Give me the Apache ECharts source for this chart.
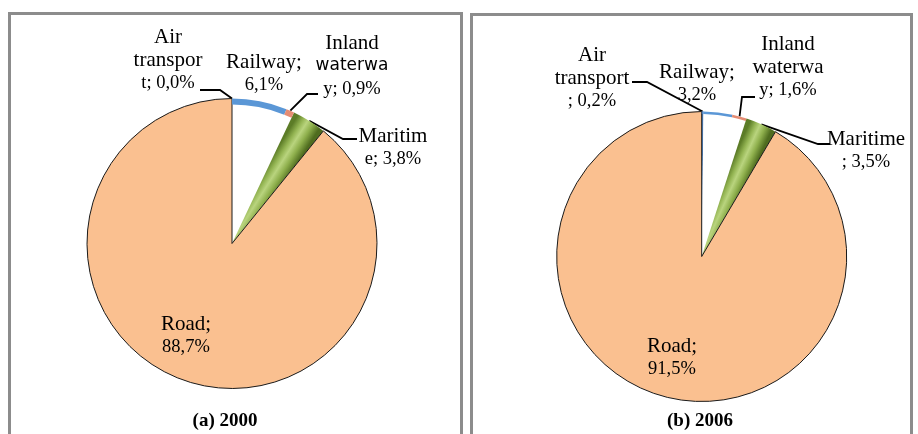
<!DOCTYPE html>
<html><head><meta charset="utf-8">
<script src="https://cdn.jsdelivr.net/npm/echarts@6/dist/echarts.min.js"></script>
<style>html,body{margin:0;padding:0;background:#fff}#c{width:918px;height:434px}</style>
</head><body><div id="c"></div>
<script>
// ---- data ----
const categories = ['Air transport', 'Railway', 'Inland waterway', 'Maritime', 'Road'];
const values2000 = [0.0, 6.1, 0.9, 3.8, 88.7];
const values2006 = [0.2, 3.2, 1.6, 3.5, 91.5];
const labels2000 = [['Air', 'transpor', 't; 0,0%'], ['Railway;', '6,1%'], ['Inland', 'waterwa', 'y; 0,9%'], ['Maritim', 'e; 3,8%'], ['Road;', '88,7%']];
const labels2006 = [['Air', 'transport', '; 0,2%'], ['Railway;', '3,2%'], ['Inland', 'waterwa', 'y; 1,6%'], ['Maritime', '; 3,5%'], ['Road;', '91,5%']];
const panelTitles = ['(a) 2000', '(b) 2006'];

// ---- layout / style ----
const SERIF = '"Liberation Serif", "Times New Roman", serif';
const panels = [
  {
    values: values2000, labels: labels2000, center: [232, 243.5], r: 145, rimWidth: 6,
    labelPos: [[168, 60], [264, 74], [352, 66], [393, 148], [186, 336]],
    lineBend: [[[220, 90], [200, 90]], null, [[307, 94], [318, 94]], [[343, 139], [357, 139]], null],
    sansLine: { '2-1': true },
    titlePos: [225, 421]
  },
  {
    values: values2006, labels: labels2006, center: [701.7, 256.5], r: 145, rimWidth: 2.5,
    labelPos: [[592, 78], [697, 84], [788, 67], [866, 151], [672, 358]],
    lineBend: [[[647, 82], [632, 82]], null, [[742, 97], [755, 97]], [[818, 144], [830, 144]], null],
    sansLine: {},
    titlePos: [700, 421]
  }
];

// shading across the maritime wedge (perpendicular to its axis)
function wedgeGradient(p, idx) {
  const total = p.values.reduce((a, b) => a + b, 0);
  let before = 0;
  for (let k = 0; k < idx; k++) before += p.values[k];
  const a0 = before / total * 2 * Math.PI;
  const a1 = (before + p.values[idx]) / total * 2 * Math.PI;
  const mid = (a0 + a1) / 2;
  const half = (a1 - a0) / 2;
  const d = 0.72 * p.r;
  const cx = p.center[0] + Math.sin(mid) * d * Math.cos(half);
  const cy = p.center[1] - Math.cos(mid) * d * Math.cos(half);
  const w = d * Math.sin(half);
  const nx = Math.cos(mid), ny = Math.sin(mid);
  return {
    type: 'linear', global: true,
    x: cx - nx * w, y: cy - ny * w, x2: cx + nx * w, y2: cy + ny * w,
    colorStops: [
      { offset: 0, color: '#5C7C27' }, { offset: 0.25, color: '#93B452' },
      { offset: 0.45, color: '#B9D47E' }, { offset: 0.7, color: '#8EAF4C' },
      { offset: 1, color: '#4F6C1F' }
    ]
  };
}
const rimColors = ['#4F81BD', '#5B97D6', '#E58C73', 'rgba(0,0,0,0)', 'rgba(0,0,0,0)'];

const series = [];
panels.forEach((p, pi) => {
  const mainColors = ['#4F81BD', '#FFFFFF', '#FFFFFF', wedgeGradient(p, 3), '#FAC090'];
  series.push({
    type: 'pie',
    center: p.center,
    radius: p.r,
    startAngle: 90,
    clockwise: true,
    avoidLabelOverlap: false,
    minShowLabelAngle: 0,
    silent: true,
    emphasis: { disabled: true },
    data: categories.map((name, i) => ({
      name: name,
      value: p.values[i],
      itemStyle: Object.assign({ color: mainColors[i] },
        i === 4 ? { borderColor: '#1a1a1a', borderWidth: 1 } : { borderWidth: 0 }),
      labelLine: { show: !!p.lineBend[i] }
    })),
    label: {
      show: true,
      position: 'outside',
      color: '#000',
      formatter: (params) => p.labels[params.dataIndex].map((line, li) => {
        const st = p.sansLine[params.dataIndex + '-' + li] ? 's' : (line.indexOf('%') >= 0 ? 'n' : 'w');
        return '{' + st + '|' + line + '}';
      }).join('\n'),
      rich: {
        w: { fontFamily: SERIF, fontSize: 21, lineHeight: 23, color: '#000' },
        n: { fontFamily: SERIF, fontSize: 18.5, lineHeight: 23, color: '#000' },
        s: { fontFamily: '"DejaVu Sans", sans-serif', fontSize: 17, lineHeight: 23, color: '#000' }
      }
    },
    labelLine: { show: true, smooth: false, lineStyle: { color: '#000', width: 1.8 } },
    labelLayout: function (params) {
      const i = params.dataIndex;
      const pos = p.labelPos[i];
      const res = { x: pos[0], y: pos[1], align: 'center', verticalAlign: 'middle' };
      const bend = p.lineBend[i];
      if (bend && params.labelLinePoints) {
        res.labelLinePoints = [params.labelLinePoints[0], bend[0], bend[1]];
      }
      return res;
    }
  });
  // coloured outer rim of the bevelled slices
  series.push({
    type: 'pie',
    center: p.center,
    radius: [p.r - p.rimWidth, p.r],
    startAngle: 90,
    clockwise: true,
    silent: true,
    emphasis: { disabled: true },
    label: { show: false },
    labelLine: { show: false },
    data: categories.map((name, i) => ({
      name: name, value: p.values[i],
      itemStyle: { color: rimColors[i], borderWidth: 0 }
    }))
  });
});

const graphic = [
  { type: 'rect', shape: { x: 9.5, y: 13.5, width: 452, height: 440 }, style: { fill: 'none', stroke: '#8C8C8C', lineWidth: 3 }, silent: true },
  { type: 'rect', shape: { x: 471.5, y: 14.5, width: 440, height: 440 }, style: { fill: 'none', stroke: '#8C8C8C', lineWidth: 3 }, silent: true }
];
panels.forEach((p, pi) => {
  graphic.push({
    type: 'text', x: p.titlePos[0], y: p.titlePos[1], silent: true,
    style: { text: panelTitles[pi], align: 'center', verticalAlign: 'middle', font: 'bold 19px ' + SERIF, fill: '#000' }
  });
});

const chart = echarts.init(document.getElementById('c'), null, { renderer: 'canvas' });
chart.setOption({
  animation: false,
  backgroundColor: '#fff',
  series: series,
  graphic: graphic
});
</script>
</body></html>
